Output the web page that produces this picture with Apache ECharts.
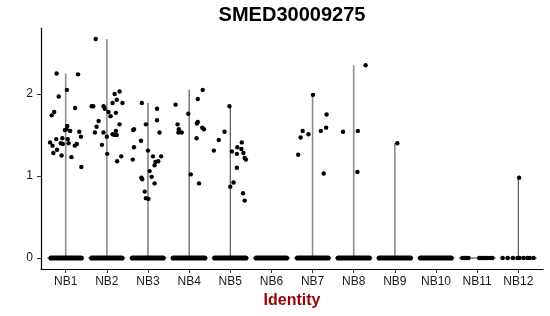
<!DOCTYPE html>
<html>
<head>
<meta charset="utf-8">
<script src="https://cdn.jsdelivr.net/npm/echarts@6/dist/echarts.min.js"></script>
<style>html,body{margin:0;padding:0;background:#fff}#c{width:550px;height:316px}</style>
</head>
<body>
<div id="c"></div>
<script>
const categories = ['NB1','NB2','NB3','NB4','NB5','NB6','NB7','NB8','NB9','NB10','NB11','NB12'];
const yTicks = [0, 1, 2];

// non-zero expression values per cluster, and their horizontal jitter (in category units)
const nb1Values = [2.25,2.24,2.05,1.97,1.83,1.78,1.74,1.61,1.56,1.57,1.55,1.54,1.48,1.45,1.46,1.45,1.41,1.40,1.39,1.40,1.37,1.39,1.37,1.32,1.28,1.25,1.23,1.11];
const nb1Jitter = [-0.22,0.30,0.03,-0.17,0.23,-0.28,-0.34,0.04,-0.02,0.02,0.11,0.33,0.37,-0.23,-0.08,0.05,-0.38,-0.12,-0.07,0.07,-0.32,0.27,0.22,-0.21,-0.30,-0.10,0.14,0.38];
const nb2Values = [2.67,2.03,2.00,1.93,1.89,1.89,1.85,1.85,1.85,1.82,1.78,1.77,1.73,1.67,1.60,1.63,1.53,1.53,1.55,1.51,1.50,1.50,1.48,1.38,1.27,1.24,1.18];
const nb2Jitter = [-0.27,0.31,0.19,0.24,0.38,0.14,-0.37,-0.33,-0.08,-0.05,0.04,0.22,0.09,-0.20,-0.25,0.31,-0.29,-0.08,0.22,0.14,0.19,0.24,0.00,-0.12,0.01,0.35,0.25];
const nb3Values = [1.89,1.82,1.68,1.63,1.57,1.56,1.53,1.43,1.35,1.31,1.20,1.24,1.24,1.18,1.17,1.13,1.06,0.98,0.96,0.99,0.91,0.81,0.73,0.72];
const nb3Jitter = [-0.15,0.22,0.22,-0.05,-0.34,-0.36,0.28,-0.17,-0.34,0.00,-0.37,0.12,0.32,0.25,0.18,0.16,0.04,-0.16,-0.14,0.09,0.16,-0.08,-0.05,0.01];
const nb4Values = [2.05,1.94,1.87,1.76,1.66,1.64,1.63,1.59,1.57,1.57,1.53,1.53,1.46,1.02,0.91];
const nb4Jitter = [0.33,0.21,-0.33,-0.02,0.21,0.19,-0.28,0.32,0.36,-0.25,-0.26,-0.18,0.18,0.04,0.24];
const nb5Values = [1.85,1.54,1.44,1.31,1.41,1.35,1.33,1.30,1.28,1.27,1.22,1.20,1.10,0.92,0.87,0.79,0.70];
const nb5Jitter = [-0.02,-0.14,-0.28,-0.40,0.28,0.17,0.27,0.04,0.32,0.16,0.35,0.38,0.16,0.08,0.00,0.31,0.35];
const nb6Values = [];
const nb6Jitter = [];
const nb7Values = [1.99,1.75,1.59,1.55,1.55,1.51,1.47,1.26,1.03];
const nb7Jitter = [0.01,0.34,0.33,0.20,-0.24,-0.10,-0.29,-0.35,0.27];
const nb8Values = [2.35,1.54,1.55,1.05];
const nb8Jitter = [0.29,-0.26,0.10,0.09];
const nb9Values = [1.40];
const nb9Jitter = [0.06];
const nb10Values = [];
const nb10Jitter = [];
const nb11Values = [];
const nb11Jitter = [];
const nb12Values = [0.98];
const nb12Jitter = [0.02];

// dense clouds of zero-expression cells: jitter extent [low, high] per cluster (null = sparse, drawn as points)
const zeroSpread = [[-0.42,0.44],[-0.43,0.43],[-0.44,0.43],[-0.45,0.44],[-0.44,0.44],[-0.43,0.43],[-0.43,0.44],[-0.44,0.44],[-0.44,0.44],[-0.44,0.43],null,null];
// sparse zero-expression cells: jitter of each cell
const nb11ZeroJitter = [-0.36,-0.31,-0.26,-0.21,0.05,0.10,0.15,0.20,0.25,0.31,0.37];
const nb12ZeroJitter = [-0.38,-0.26,-0.13,-0.02,0.03,0.13,0.22,0.28,0.37];

const allValues = [nb1Values,nb2Values,nb3Values,nb4Values,nb5Values,nb6Values,nb7Values,nb8Values,nb9Values,nb10Values,nb11Values,nb12Values];
const allJitter = [nb1Jitter,nb2Jitter,nb3Jitter,nb4Jitter,nb5Jitter,nb6Jitter,nb7Jitter,nb8Jitter,nb9Jitter,nb10Jitter,nb11Jitter,nb12Jitter];

// styling (not data)
const violinColors = ['#8c8c8c','#8c8c8c','#3a3a3a','#333333','#333333','#333333','#8c8c8c','#8c8c8c','#8c8c8c','#333333','#333333','#333333'];
const violinWidths = [1.6,1.6,1,1,1,1,1.6,1.6,1.6,1,1,1];
const FONT = '"Liberation Sans", Arial, Helvetica, sans-serif';

const pointData = [];
allValues.forEach((vals, i) => {
  vals.forEach((v, j) => pointData.push([i + 1 + allJitter[i][j], v]));
});
nb11ZeroJitter.forEach(j => pointData.push([11 + j, 0]));
nb12ZeroJitter.forEach(j => pointData.push([12 + j, 0]));

const violinData = allValues.map((vals, i) => [i + 1, vals.length ? Math.max.apply(null, vals) : 0]);
const bandData = [];
zeroSpread.forEach((s, i) => { if (s) bandData.push([i + 1, s[0], s[1]]); });

const chart = echarts.init(document.getElementById('c'), null, {renderer: 'canvas'});
chart.setOption({
  animation: false,
  backgroundColor: '#ffffff',
  grid: {left: 41, right: 7, top: 28, bottom: 47, containLabel: false},
  graphic: [{
    type: 'text', x: 292, y: 15,
    style: {text: 'SMED30009275', font: 'bold 20px ' + FONT, fill: '#000', align: 'center', verticalAlign: 'middle'}
  }],
  xAxis: {
    type: 'value', min: 0.4, max: 12.6,
    name: 'Identity', nameLocation: 'middle', nameGap: 22,
    nameTextStyle: {color: '#990000', fontWeight: 'bold', fontSize: 16, fontFamily: FONT},
    axisLine: {show: true, onZero: false, lineStyle: {color: '#000', width: 1.2}},
    axisTick: {show: true, length: 4, customValues: categories.map((c, i) => i + 1), lineStyle: {color: '#333'}},
    axisLabel: {customValues: categories.map((c, i) => i + 1), formatter: v => categories[Math.round(v) - 1] || '',
      color: '#1a1a1a', fontSize: 12, fontFamily: FONT, margin: 7},
    splitLine: {show: false}
  },
  yAxis: {
    type: 'value', min: -0.134, max: 2.805,
    axisLine: {show: true, onZero: false, lineStyle: {color: '#000', width: 1.2}},
    axisTick: {show: true, length: 4, customValues: yTicks, lineStyle: {color: '#333'}},
    axisLabel: {customValues: yTicks, color: '#1a1a1a', fontSize: 12, fontFamily: FONT, margin: 8},
    splitLine: {show: false}
  },
  series: [
    {
      type: 'custom', data: violinData, encode: {x: 0, y: 1}, z: 1, silent: true,
      renderItem: function (params, api) {
        const x = api.value(0), m = api.value(1);
        const i = params.dataIndex;
        const base = api.coord([x, 0]);
        const top = api.coord([x, m]);
        const l = api.coord([x - 0.45, 0]);
        const r = api.coord([x + 0.45, 0]);
        const children = [{
          type: 'line', shape: {x1: l[0], y1: l[1], x2: r[0], y2: r[1]},
          style: {stroke: '#333', lineWidth: 1}
        }];
        if (m > 0) children.push({
          type: 'line', shape: {x1: base[0], y1: base[1], x2: top[0], y2: top[1]},
          style: {stroke: violinColors[i], lineWidth: violinWidths[i]}
        });
        return {type: 'group', children: children};
      }
    },
    {
      type: 'custom', data: bandData, encode: {x: 0, y: 1}, z: 2, silent: true,
      renderItem: function (params, api) {
        const x = api.value(0), lo = api.value(1), hi = api.value(2);
        const a = api.coord([x + lo, 0]);
        const b = api.coord([x + hi, 0]);
        return {
          type: 'line', shape: {x1: a[0] + 2.6, y1: a[1], x2: b[0] - 2.6, y2: b[1]},
          style: {stroke: '#000', lineWidth: 5.2, lineCap: 'round'}
        };
      }
    },
    {
      type: 'scatter', data: pointData, symbol: 'circle', symbolSize: 4.4, z: 3, silent: true,
      itemStyle: {color: '#000', opacity: 1}
    }
  ]
});
</script>
</body>
</html>
